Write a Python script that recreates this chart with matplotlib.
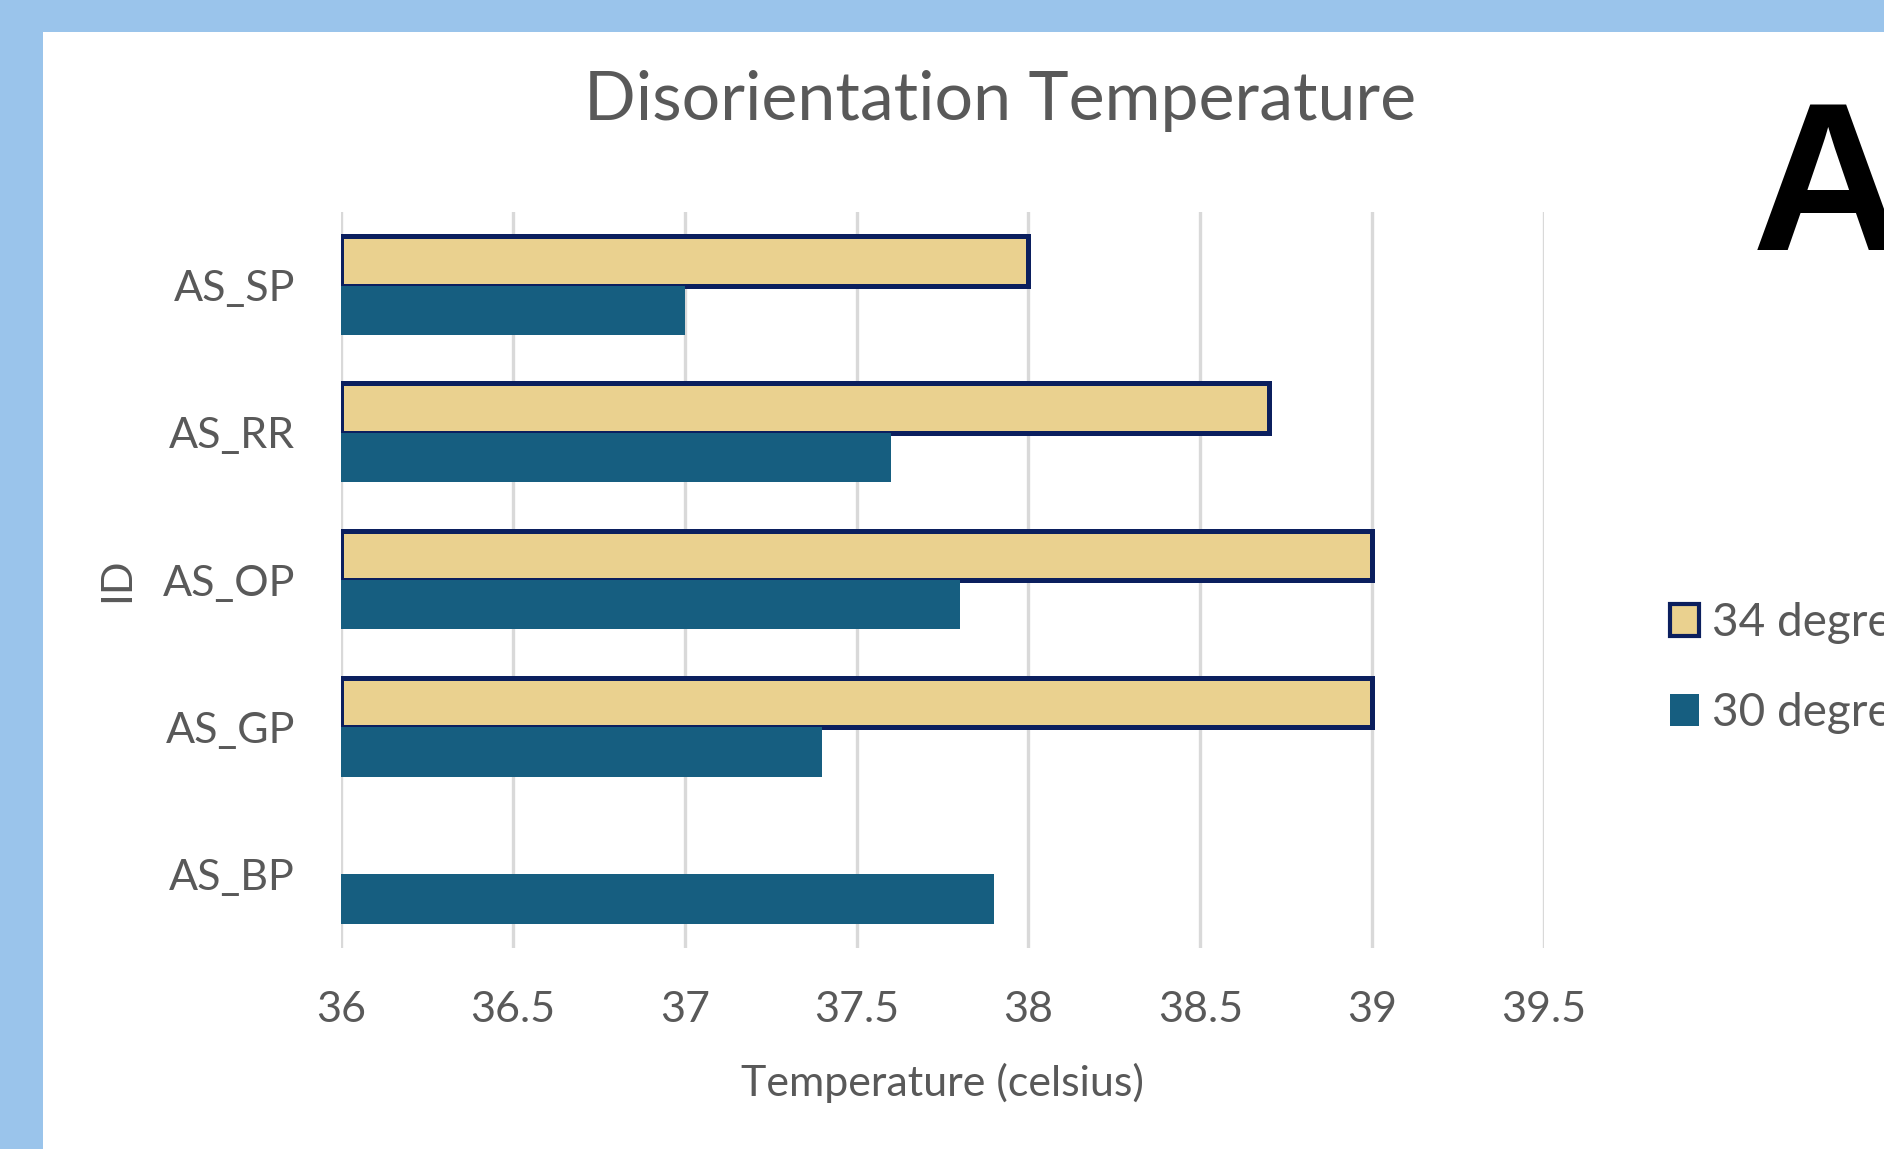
import numpy as np
import matplotlib
matplotlib.use("Agg")
import matplotlib.pyplot as plt
from matplotlib.patches import Rectangle, Patch

# data, bottom to top as drawn
ids = ["AS_BP", "AS_GP", "AS_OP", "AS_RR", "AS_SP"]
temp_34 = [np.nan, 39.0, 39.0, 38.7, 38.0]
temp_30 = [37.9, 37.4, 37.8, 37.6, 37.0]
x_ticks = [36, 36.5, 37, 37.5, 38, 38.5, 39, 39.5]
x_tick_labels = ["36", "36.5", "37", "37.5", "38", "38.5", "39", "39.5"]
x_min = 36

grey = "#595959"
col_34 = "#EAD18F"
edge_34 = "#0B1F5E"
col_30 = "#165E80"
plt.rcParams["font.family"] = ["Lato", "DejaVu Sans"]

W, H = 1884, 1149
fig = plt.figure(figsize=(W / 100, H / 100), dpi=100)
fig.patch.set_facecolor("#9AC4EB")
# white card, blue strip only left and top
fig.patches.append(Rectangle((43 / W, 0), 1, 1 - 32 / H, transform=fig.transFigure,
                             facecolor="white", edgecolor="none", zorder=-10))

ax = fig.add_axes([341 / W, 1 - 948 / H, (1544 - 341) / W, (948 - 212) / H])
ax.set_facecolor("none")

y = np.arange(len(ids))
h = 0.335
w34 = np.array(temp_34) - x_min
w30 = np.array(temp_30) - x_min
ax.barh(y + h / 2, w34, height=h, left=x_min, color=col_34, edgecolor=edge_34,
        linewidth=3.6, zorder=3)
ax.barh(y - h / 2, w30, height=h, left=x_min, color=col_30, edgecolor="none", zorder=3)

ax.set_xlim(36, 39.5)
ax.set_ylim(-0.5, len(ids) - 0.5)
ax.set_xticks(x_ticks)
ax.set_xticklabels(x_tick_labels)
ax.set_yticks(y)
ax.set_yticklabels(ids, va="center_baseline")
ax.tick_params(axis="both", length=0, labelsize=31, labelcolor=grey)
ax.tick_params(axis="x", pad=31)
ax.tick_params(axis="y", pad=33)
ax.grid(axis="x", color="#D9D9D9", linewidth=2.4, zorder=0)
ax.set_axisbelow(True)
for s in ax.spines.values():
    s.set_visible(False)

ax.set_xlabel("Temperature (celsius)", fontsize=31, color=grey, labelpad=24)
ax.set_ylabel("ID", fontsize=31, color=grey, labelpad=19)

fig.text(1000 / W, 1 - 101 / H, "Disorientation Temperature", fontsize=49, color=grey,
         ha="center", va="center")
fig.text(1752 / W, 1 - 250 / H, "A", fontsize=152, fontweight="bold", color="black",
         family=["Liberation Sans", "DejaVu Sans"], ha="left", va="baseline")

handles = [Patch(facecolor=col_34, edgecolor=edge_34, linewidth=3.0, label="34 degrees"),
           Patch(facecolor=col_30, edgecolor="none", label="30 degrees")]
fig.legend(handles=handles, loc="upper left", bbox_to_anchor=(1652 / W, 1 - 584 / H),
           frameon=False, fontsize=33, labelcolor=grey, handlelength=0.62,
           handleheight=0.7, handletextpad=0.3, labelspacing=1.05, borderaxespad=0)

fig.savefig("out.png", dpi=100)
